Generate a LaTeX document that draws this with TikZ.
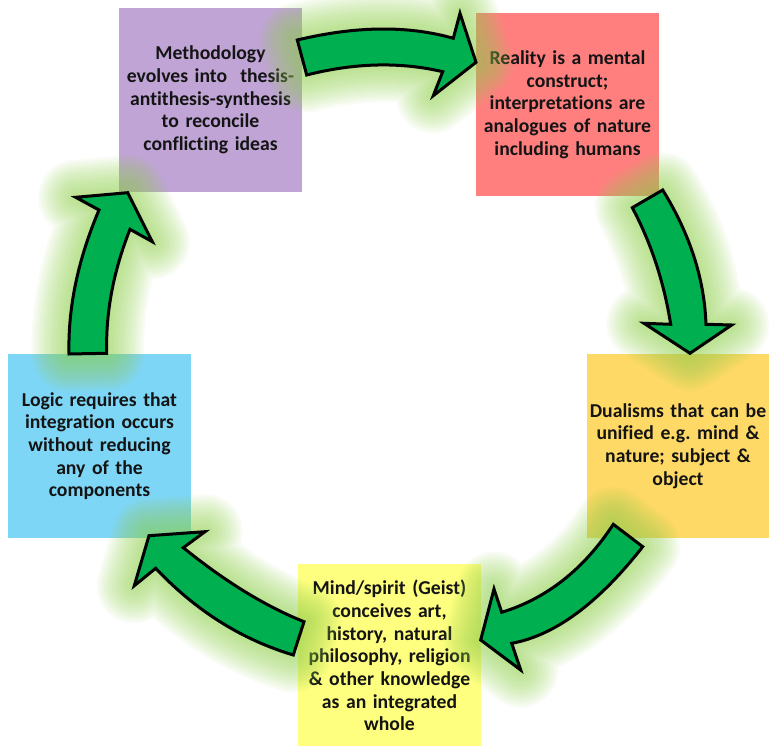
\documentclass[tikz,border=0pt]{standalone}
\usepackage{fontspec}
\setmainfont{Carlito}[Ligatures={NoCommon}]
\begin{document}
\begin{tikzpicture}[x=0.02cm,y=-0.02cm,
  card/.style={minimum width=3.66cm, minimum height=3.68cm, inner sep=0pt,
    text width=3.6cm, align=center, font=\bfseries\fontsize{11.2}{12.9}\selectfont,
    text=black!92},
  glowline/.style={draw=glowgreen, draw opacity=0.062, line join=round, line cap=round},
  blockarrow/.style={fill=arrowgreen, draw=black, line width=0.06cm, line join=miter}]
\definecolor{glowgreen}{HTML}{92D050}
\definecolor{arrowgreen}{HTML}{00B050}
\definecolor{cpurple}{HTML}{BFA4D5}
\definecolor{cred}{HTML}{FF7F7F}
\definecolor{corange}{HTML}{FFD966}
\definecolor{cblue}{HTML}{7ED6F6}
\definecolor{cyellow}{HTML}{FFFF7F}
\useasboundingbox (0,0) rectangle (769,746);

% the five stages
\node[card, fill=cpurple] (method) at (210.5,100)
  {Methodology\\evolves into\ \ thesis-\\antithesis-synthesis\\to reconcile\\conflicting ideas};
\node[card, fill=cred] (reality) at (567.5,104.5)
  {Reality is a mental\\construct;\\interpretations are\\analogues of nature\\including humans};
\node[card, fill=corange] (dual) at (678,446)
  {Dualisms that can be\\unified e.g.\ mind \&\\nature; subject \&\\object};
\node[card, fill=cyellow] (geist) at (389.5,655.5)
  {Mind/spirit (Geist)\\conceives art,\\history, natural\\philosophy, religion\\\& other knowledge\\as an integrated\\whole};
\node[card, fill=cblue] (logic) at (99.5,446)
  {Logic requires that\\integration occurs\\without reducing\\any of the\\components};

% curved block arrows between the stages
\path[save path=\arrowA] (297.3,40) .. controls (355.7,26) and (407.7,25.3) .. (453.3,38.3)
  -- (460,13.3) -- (476,62.3) -- (433.3,95.7) -- (442.7,71.7)
  .. controls (400,61.7) and (354.7,62.8) .. (306.7,75) -- cycle;
\path[save path=\arrowB] (662.7,190) .. controls (690,234.2) and (704.4,278.9) .. (706,324.3)
  -- (731.7,325) -- (690,353.3) -- (644,323.3) -- (670.7,324.3)
  .. controls (663.9,281.8) and (651.1,243) .. (632.3,207.7) -- cycle;
\path[save path=\arrowC] (642.7,546.7) .. controls (598.4,603.3) and (554.7,635.5) .. (511.7,643.3)
  -- (520.7,670) -- (480.7,640) -- (494,589) -- (501.7,612.3)
  .. controls (546.6,598.6) and (583.8,569.3) .. (613.3,524.3) -- cycle;
\path[save path=\arrowD] (304,621.7) .. controls (265.6,606.4) and (225.3,581.7) .. (183.3,547.7)
  -- (205,531.7) -- (149,535.7) -- (134.3,585.7) -- (155.7,568.3)
  .. controls (195.6,610.6) and (241.4,639.5) .. (293.3,655) -- cycle;
\path[save path=\arrowE] (106.7,353.3) .. controls (105.6,312.5) and (113.4,271.2) .. (130,229.3)
  -- (152.3,241.7) -- (127.7,192.7) -- (75.7,197.3) -- (99,210)
  .. controls (77.9,259.7) and (67.9,307.7) .. (69,354) -- cycle;

% soft green glow round each arrow
\foreach \w in {0.1,0.2,0.3,0.4,0.5,0.6,0.7,0.8,0.9,1.0,1.1,1.2,1.3,1.4,1.5}{
  \path[glowline, line width=\w cm, use path=\arrowA];
  \path[glowline, line width=\w cm, use path=\arrowB];
  \path[glowline, line width=\w cm, use path=\arrowC];
  \path[glowline, line width=\w cm, use path=\arrowD];
  \path[glowline, line width=\w cm, use path=\arrowE];
}

\path[blockarrow, use path=\arrowA];
\path[blockarrow, use path=\arrowB];
\path[blockarrow, use path=\arrowC];
\path[blockarrow, use path=\arrowD];
\path[blockarrow, use path=\arrowE];
\end{tikzpicture}
\end{document}
